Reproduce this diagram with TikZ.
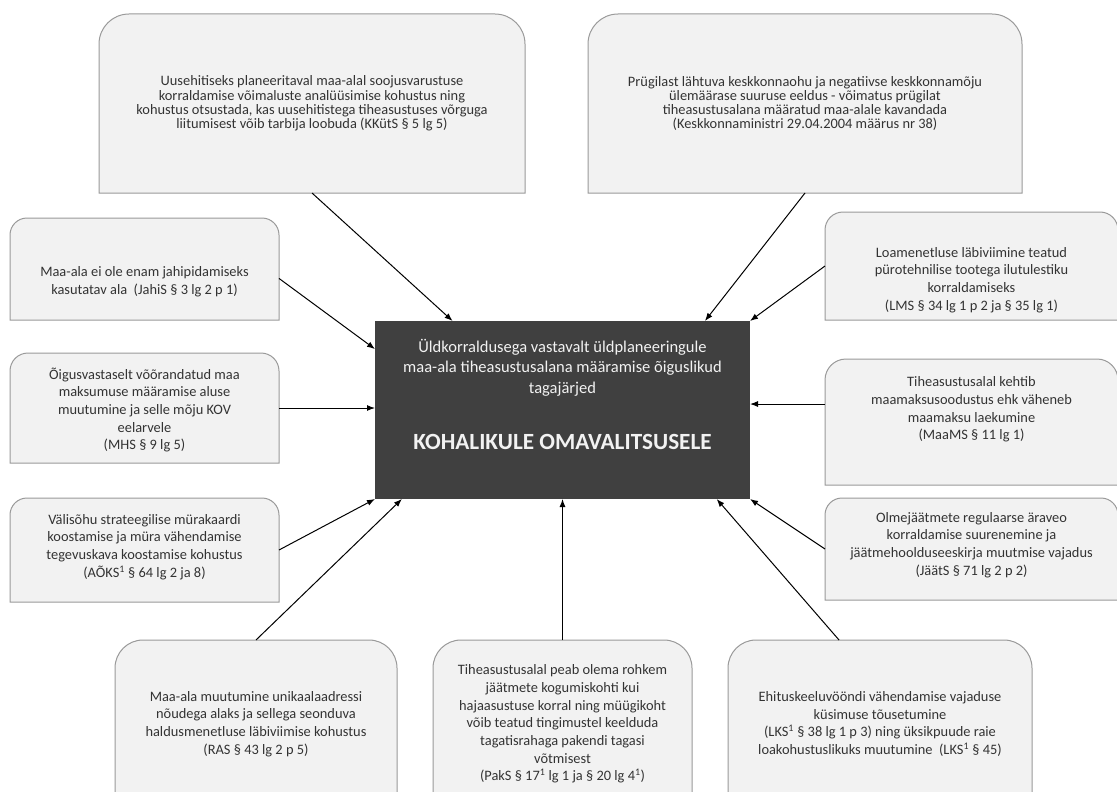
\documentclass[tikz,border=0pt]{standalone}
\usepackage{fontspec}
\setmainfont{Carlito}
\usetikzlibrary{arrows.meta}
\definecolor{effectfill}{HTML}{F2F2F2}
\definecolor{effectline}{HTML}{9A9A9A}
\definecolor{kovfill}{HTML}{404040}
\definecolor{efftextcol}{HTML}{333333}
\tikzset{
  effect/.style 2 args={minimum width=#1pt,minimum height=#2pt,inner sep=0pt,outer sep=0pt},
  outline/.style={draw=effectline,fill=effectfill,line width=1pt},
  efftext/.style={align=center,text=efftextcol,inner sep=0pt,
    font=\fontsize{14.4}{17.7}\selectfont},
  toptext/.style={efftext,font=\fontsize{14.4}{14.3}\selectfont},
  impact/.style={-{Latex[length=8pt,width=6pt]},line width=1pt}
}

\begin{document}
\begin{tikzpicture}[x=1pt,y=-1pt,
  kovbox/.style={fill=kovfill,minimum width=375pt,minimum height=178pt,
    inner sep=0pt,outer sep=0pt},
  kovtext/.style={align=center,text=effectfill,inner sep=0pt,
    font=\fontsize{16.5}{20.5}\selectfont},
  kovtitle/.style={text=effectfill,inner sep=0pt,
    font=\fontsize{23.2}{26}\selectfont\bfseries}
]
  \useasboundingbox (0,0) rectangle (1117,792);
  % consequence boxes
  \node[effect={426}{179}] (kkuts) at (312,103.5) {};
  \node[effect={434}{179}] (prugila) at (805,103.5) {};
  \node[effect={269}{102}] (jahis) at (144.5,269) {};
  \node[effect={269}{110}] (mhs) at (144.5,408) {};
  \node[effect={269}{104}] (aoks) at (144.5,550) {};
  \node[effect={293}{108}] (lms) at (971.5,266) {};
  \node[effect={293}{126}] (maams) at (971.5,422) {};
  \node[effect={293}{102}] (jaats) at (971.5,549) {};
  \node[effect={282}{168}] (ras) at (256,724) {};
  \node[effect={259}{168}] (paks) at (562.5,724) {};
  \node[effect={304}{168}] (lks) at (880,724) {};
  \foreach \effname/\r in {kkuts/30,prugila/30,jahis/17,mhs/18,aoks/17,
      lms/18,maams/21,jaats/17,ras/28,paks/28,lks/28}
    \draw[outline] (\effname.south west) -- ([yshift=-\r*1pt]\effname.north west)
      arc[start angle=180,end angle=90,radius=\r*1pt]
      -- ([xshift=-\r*1pt]\effname.north east)
      arc[start angle=90,end angle=0,radius=\r*1pt]
      -- (\effname.south east) -- cycle;

  \node[toptext] (kkuts-txt) at (kkuts) {Uusehitiseks planeeritaval maa-alal soojusvarustuse\\
    korraldamise võimaluste analüüsimise kohustus ning\\
    kohustus otsustada, kas uusehitistega tiheasustuses võrguga\\
    liitumisest võib tarbija loobuda (KKütS § 5 lg 5)};
  \node[toptext] (prugila-txt) at (prugila) {Prügilast lähtuva keskkonnaohu ja negatiivse keskkonnamõju\\
    ülemäärase suuruse eeldus - võimatus prügilat\\
    tiheasustusalana määratud maa-alale kavandada\\
    (Keskkonnaministri 29.04.2004 määrus nr 38)};
  \node[efftext] (jahis-txt) at ([yshift=-12.5pt]jahis) {Maa-ala ei ole enam jahipidamiseks\\
    kasutatav ala~ (JahiS § 3 lg 2 p 1)};
  \node[efftext] (mhs-txt) at ([yshift=-2pt]mhs) {Õigusvastaselt võõrandatud maa\\
    maksumuse määramise aluse\\muutumine ja selle mõju KOV\\eelarvele\\(MHS § 9 lg 5)};
  \node[efftext] (aoks-txt) at ([yshift=3pt]aoks) {Välisõhu strateegilise mürakaardi\\
    koostamise ja müra vähendamise\\tegevuskava koostamise kohustus\\
    (AÕKS\textsuperscript{1} § 64 lg 2 ja 8)};
  \node[efftext] (lms-txt) at ([yshift=-14pt]lms) {Loamenetluse läbiviimine teatud\\
    pürotehnilise tootega ilutulestiku\\korraldamiseks\\(LMS § 34 lg 1 p 2 ja § 35 lg 1)};
  \node[efftext] (maams-txt) at ([yshift=12.5pt]maams) {Tiheasustusalal kehtib\\
    maamaksusoodustus ehk väheneb\\maamaksu laekumine\\(MaaMS § 11 lg 1)};
  \node[efftext] (jaats-txt) at ([yshift=4pt]jaats) {Olmejäätmete regulaarse äraveo\\
    korraldamise suurenemine ja\\jäätmehoolduseeskirja muutmise vajadus\\
    (JäätS § 71 lg 2 p 2)};
  \node[efftext] (ras-txt) at (ras) {Maa-ala muutumine unikaalaadressi\\
    nõudega alaks ja sellega seonduva\\haldusmenetluse läbiviimise kohustus\\
    (RAS § 43 lg 2 p 5)};
  \node[efftext] (paks-txt) at (paks) {Tiheasustusalal peab olema rohkem\\
    jäätmete kogumiskohti kui\\hajaasustuse korral ning müügikoht\\
    võib teatud tingimustel keelduda\\tagatisrahaga pakendi tagasi\\võtmisest\\
    (PakS § 17\textsuperscript{1} lg 1 ja § 20 lg 4\textsuperscript{1})};
  \node[efftext] (lks-txt) at (lks) {Ehituskeeluvööndi vähendamise vajaduse\\
    küsimuse tõusetumine\\
    (LKS\textsuperscript{1} § 38 lg 1 p 3) ning üksikpuude raie\\
    loakohustuslikuks muutumine~ (LKS\textsuperscript{1} § 45)};

  % local government
  \node[kovbox] (kov) at (562.5,410) {};
  \node[kovtext] (kov-sub) at (562.5,367.5) {Üldkorraldusega vastavalt üldplaneeringule\\
    maa-ala tiheasustusalana määramise õiguslikud\\tagajärjed};
  \node[kovtitle] (kov-title) at (562.5,442) {KOHALIKULE OMAVALITSUSELE};

  % arrows into the centre
  \draw[impact] (kkuts.south) -- (kov.141.6);
  \draw[impact] (prugila.south) -- (kov.32.9);
  \draw[impact] (jahis.-4) -- (kov.162);
  \draw[impact] (mhs.east) -- (mhs.east -| kov.west);
  \draw[impact] (aoks.east) -- (kov.south west);
  \draw[impact] (ras.north) -- (kov.209.9);
  \draw[impact] (paks.north) -- (kov.south);
  \draw[impact] (lks.116.6) -- (kov.-30);
  \draw[impact] (jaats.west) -- (kov.south east);
  \draw[impact] (maams.173.4) -- (kov.east |- maams.173.4);
  \draw[impact] (lms.west) -- (kov.north east);
\end{tikzpicture}
\end{document}
